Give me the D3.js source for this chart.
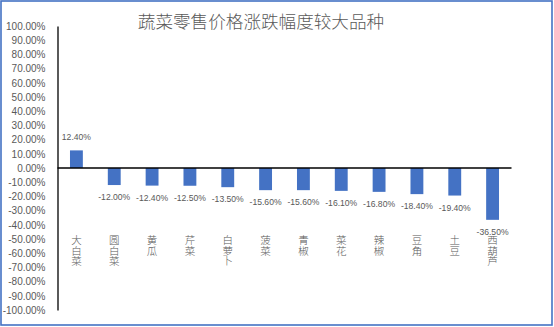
<!DOCTYPE html>
<html>
<head>
<meta charset="utf-8">
<script src="https://cdn.jsdelivr.net/npm/d3@7"></script>
<style>
  html, body { margin: 0; padding: 0; background: #fff; }
  svg { display: block; }
  text { font-family: "Noto Sans CJK SC", "Liberation Sans", sans-serif; }
</style>
</head>
<body>
<svg id="chart" width="554" height="327"></svg>
<script>
// 品种与涨跌幅（%）
const categories = ["大白菜", "圆白菜", "黄瓜", "芹菜", "白萝卜", "菠菜", "青椒", "菜花", "辣椒", "豆角", "土豆", "西葫芦"];
const changes = [12.4, -12.0, -12.4, -12.5, -13.5, -15.6, -15.6, -16.1, -16.8, -18.4, -19.4, -36.5];
const yTicks = [100, 90, 80, 70, 60, 50, 40, 30, 20, 10, 0, -10, -20, -30, -40, -50, -60, -70, -80, -90, -100];
const title = "蔬菜零售价格涨跌幅度较大品种";

const svg = d3.select("#chart");
const W = 554, H = 327;
const grey = "#595959";
const barColor = "#4472C4";

// 外框
svg.append("rect")
  .attr("x", 1).attr("y", 1)
  .attr("width", W - 3).attr("height", H - 3)
  .attr("fill", "#fff")
  .attr("stroke", "#4472C4")
  .attr("stroke-width", 1.6);

const x = d3.scaleBand()
  .domain(categories)
  .range([57.5, 511.5])
  .paddingInner(0.66)
  .paddingOuter(0.33);

const y = d3.scaleLinear().domain([-100, 100]).range([310, 26]);

// 标题
svg.append("text")
  .attr("x", 261).attr("y", 28)
  .attr("text-anchor", "middle")
  .attr("font-size", 17.6)
  .attr("font-weight", 300)
  .attr("fill", grey)
  .text(title);

// Y 轴
const yAxis = d3.axisLeft(y)
  .tickValues(yTicks)
  .tickSize(0)
  .tickPadding(12)
  .tickFormat(d => d.toFixed(2) + "%");
const gy = svg.append("g")
  .attr("transform", "translate(57.5,0)")
  .call(yAxis);
gy.select(".domain").attr("stroke", "#000").attr("stroke-width", 1.3);
gy.selectAll("text")
  .attr("font-size", 10)
  .attr("fill", grey)
  .style("font-family", "'Liberation Sans', sans-serif");

// 柱子
svg.append("g").selectAll("rect")
  .data(categories)
  .join("rect")
  .attr("x", d => x(d))
  .attr("width", x.bandwidth())
  .attr("y", (d, i) => y(Math.max(0, changes[i])))
  .attr("height", (d, i) => Math.abs(y(changes[i]) - y(0)))
  .attr("fill", barColor);

// 零线
svg.append("line")
  .attr("x1", 57.5).attr("x2", 511.5)
  .attr("y1", y(0)).attr("y2", y(0))
  .attr("stroke", "#000").attr("stroke-width", 1.3);

// 数据标签
svg.append("g").selectAll("text")
  .data(categories)
  .join("text")
  .attr("x", d => x(d) + x.bandwidth() / 2)
  .attr("y", (d, i) => changes[i] >= 0 ? y(changes[i]) - 10 : y(changes[i]) + 15)
  .attr("text-anchor", "middle")
  .attr("font-size", 8.6)
  .attr("fill", grey)
  .style("font-family", "'Liberation Sans', sans-serif")
  .text((d, i) => changes[i].toFixed(2) + "%");

// 类别标签（竖排，逐字换行）
const cat = svg.append("g").selectAll("text")
  .data(categories)
  .join("text")
  .attr("text-anchor", "middle")
  .attr("font-size", 10.5)
  .attr("font-weight", 300)
  .attr("fill", grey);
cat.each(function(d) {
  const t = d3.select(this);
  const cx = x(d) + x.bandwidth() / 2;
  Array.from(d).forEach((ch, k) => {
    t.append("tspan")
      .attr("x", cx)
      .attr("y", 244 + k * 10.5)
      .text(ch);
  });
});
</script>
</body>
</html>
